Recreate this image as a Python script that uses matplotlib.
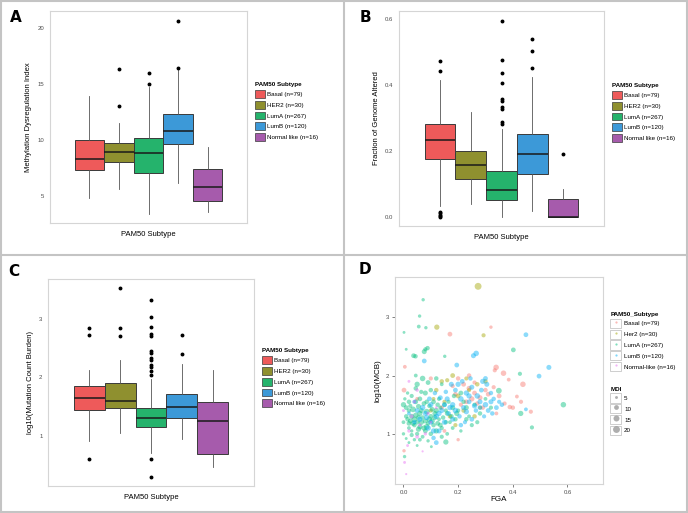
import numpy as np
import matplotlib.pyplot as plt
from matplotlib.patches import Patch, Rectangle
from matplotlib.lines import Line2D

plt.rcParams['font.family'] = ['Liberation Sans', 'DejaVu Sans']

subtypes = ['Basal', 'HER2', 'LumA', 'LumB', 'Normal like']
counts = [79, 30, 267, 120, 16]
box_colors = ['#EE5A5A', '#8F902F', '#25B36C', '#3C99D8', '#A65BAC']

# box stats per subtype: [whisker low, q1, median, q3, whisker high]
mdi_stats = [[4.85, 7.3, 8.3, 10.0, 13.9],
             [5.6, 8.0, 8.9, 9.7, 11.5],
             [3.4, 7.1, 8.8, 10.2, 14.7],
             [6.2, 9.6, 10.8, 12.3, 16.2],
             [3.55, 4.55, 5.8, 7.4, 9.4]]
mdi_fliers = [[], [16.3, 13.0], [16.0, 15.0], [20.6, 16.4], []]

fga_stats = [[0.033, 0.176, 0.234, 0.281, 0.415],
             [0.039, 0.115, 0.158, 0.198, 0.317],
             [0.0, 0.050, 0.081, 0.139, 0.265],
             [0.018, 0.129, 0.189, 0.252, 0.423],
             [0.0, 0.0, 0.0, 0.054, 0.083]]
fga_fliers = [[0.472, 0.443, 0.015, 0.010, 0.006, 0.002, 0.0],
              [],
              [0.594, 0.475, 0.435, 0.406, 0.356, 0.350, 0.334, 0.327, 0.287, 0.281],
              [0.538, 0.503, 0.451],
              [0.191]]

mcb_stats = [[0.91, 1.44, 1.65, 1.86, 2.13],
             [1.05, 1.47, 1.59, 1.91, 2.30],
             [0.71, 1.15, 1.30, 1.48, 1.97],
             [0.95, 1.30, 1.49, 1.72, 2.22],
             [0.48, 0.70, 1.26, 1.58, 2.12]]
mcb_fliers = [[2.84, 2.72, 0.61],
              [3.53, 2.84, 2.70],
              [3.31, 3.02, 2.85, 2.73, 2.71, 2.45, 2.42, 2.33, 2.29, 2.21, 2.17, 2.11, 2.04, 0.61, 0.31],
              [2.72, 2.39],
              []]

# panel D points: (FGA, log10(MCB), MDI)
basal_pts = [(0.32, 2.83, 6), (0.17, 2.71, 10), (0.339, 2.14, 13), (0.334, 2.09, 8), (0.366, 2.04, 13),
             (0.385, 1.93, 7), (0.437, 1.85, 13), (0.002, 1.75, 10), (0.415, 1.64, 7), (0.466, 1.38, 8),
             (0.389, 1.46, 9), (0.20, 0.90, 6), (0.002, 0.71, 6), (0.20, 1.95, 9), (0.22, 1.85, 10),
             (0.24, 1.78, 11), (0.26, 1.70, 10), (0.28, 1.62, 11), (0.30, 1.75, 9), (0.25, 1.60, 12),
             (0.23, 1.55, 10), (0.27, 1.52, 9), (0.21, 1.50, 8), (0.19, 1.68, 9), (0.31, 1.68, 10),
             (0.29, 1.45, 9), (0.33, 1.80, 8), (0.35, 1.65, 10), (0.18, 1.82, 8), (0.24, 2.00, 9),
             (0.26, 1.88, 8), (0.10, 1.95, 8), (0.05, 1.60, 7), (0.15, 1.05, 7), (0.37, 1.52, 8),
             (0.40, 1.45, 9), (0.34, 1.35, 7), (0.43, 1.55, 8), (0.14, 1.45, 9), (0.005, 2.15, 7)]
her2_pts = [(0.273, 3.53, 20), (0.122, 2.83, 12), (0.293, 2.69, 8), (0.14, 1.90, 9), (0.16, 1.92, 8),
            (0.18, 2.00, 10), (0.12, 1.75, 9), (0.20, 1.65, 10), (0.22, 1.40, 9), (0.24, 1.75, 8),
            (0.26, 1.30, 9), (0.10, 1.40, 8), (0.17, 1.30, 9), (0.28, 1.45, 7), (0.15, 1.55, 8),
            (0.30, 1.90, 9), (0.19, 1.15, 8), (0.11, 1.60, 7), (0.23, 1.95, 8), (0.27, 1.85, 9)]
luma_pts = [(0.072, 3.30, 6), (0.059, 3.02, 6), (0.056, 2.84, 7), (0.082, 2.82, 6), (0.002, 2.74, 5),
            (0.01, 2.45, 5), (0.402, 2.44, 10), (0.088, 2.47, 9), (0.080, 2.45, 8), (0.076, 2.41, 11),
            (0.037, 2.34, 10), (0.044, 2.33, 9), (0.151, 2.33, 6), (0.426, 2.03, 8), (0.349, 1.74, 14),
            (0.585, 1.50, 13), (0.429, 1.35, 12), (0.47, 1.11, 8), (0.155, 0.86, 12), (0.102, 0.78, 5),
            (0.004, 0.61, 6), (0.00, 1.50, 12), (0.01, 1.45, 10), (0.02, 1.40, 9), (0.03, 1.30, 11),
            (0.04, 1.25, 13), (0.05, 1.20, 10), (0.06, 1.35, 12), (0.07, 1.28, 9), (0.08, 1.22, 11),
            (0.09, 1.18, 8), (0.10, 1.30, 10), (0.11, 1.15, 9), (0.12, 1.40, 12), (0.13, 1.25, 7),
            (0.14, 1.10, 8), (0.02, 1.10, 7), (0.03, 1.05, 6), (0.05, 1.00, 8), (0.07, 0.95, 7),
            (0.00, 1.00, 6), (0.01, 0.92, 5), (0.04, 0.90, 6), (0.06, 1.60, 10), (0.08, 1.70, 11),
            (0.10, 1.75, 9), (0.05, 1.85, 12), (0.07, 1.95, 13), (0.09, 1.88, 10), (0.03, 1.65, 8),
            (0.02, 1.55, 9), (0.11, 1.55, 10), (0.13, 1.60, 8), (0.15, 1.50, 9), (0.16, 1.35, 10),
            (0.18, 1.45, 11), (0.20, 1.40, 8), (0.22, 1.55, 9), (0.24, 1.30, 7), (0.19, 1.25, 9),
            (0.17, 1.20, 7), (0.12, 1.05, 12), (0.08, 1.05, 10), (0.06, 1.12, 11), (0.04, 1.15, 9),
            (0.035, 1.42, 14), (0.055, 1.47, 11), (0.075, 1.52, 10), (0.095, 1.48, 9), (0.115, 1.35, 11),
            (0.135, 1.45, 8), (0.025, 1.22, 10), (0.045, 1.32, 12), (0.065, 1.20, 13), (0.085, 1.38, 14),
            (0.105, 1.22, 12), (0.125, 1.18, 10), (0.145, 1.28, 9), (0.165, 1.55, 8), (0.185, 1.65, 9),
            (0.21, 1.70, 10), (0.23, 1.45, 11), (0.26, 1.50, 8), (0.28, 1.35, 9), (0.30, 1.60, 7),
            (0.32, 1.45, 8), (0.01, 1.30, 9), (0.00, 1.20, 7), (0.015, 1.70, 6), (0.045, 1.78, 9),
            (0.16, 1.00, 7), (0.21, 1.05, 6), (0.05, 0.80, 5), (0.09, 0.88, 6), (0.25, 1.15, 8),
            (0.14, 1.85, 7), (0.12, 1.95, 9), (0.02, 0.85, 5), (0.015, 1.25, 9), (0.035, 1.18, 11),
            (0.055, 1.28, 10), (0.075, 1.10, 12), (0.095, 1.25, 13), (0.115, 1.28, 11), (0.135, 1.15, 10),
            (0.155, 1.20, 9), (0.175, 1.30, 10), (0.195, 1.35, 12), (0.065, 1.40, 11), (0.085, 1.55, 9),
            (0.045, 1.55, 10), (0.025, 1.48, 8), (0.105, 1.42, 10), (0.125, 1.50, 9), (0.005, 1.60, 6),
            (0.03, 0.98, 8), (0.06, 0.90, 7), (0.10, 1.00, 9), (0.14, 0.95, 8), (0.085, 1.12, 14),
            (0.055, 1.08, 12), (0.02, 1.18, 10), (0.155, 1.40, 8), (0.18, 1.10, 7), (0.23, 1.25, 9),
            (0.27, 1.20, 8), (0.045, 2.00, 7), (0.065, 1.72, 8)]
lumb_pts = [(0.448, 2.70, 10), (0.266, 2.38, 13), (0.256, 2.34, 11), (0.076, 2.25, 10), (0.195, 2.18, 10),
            (0.532, 2.14, 11), (0.496, 1.99, 10), (0.448, 1.42, 7), (0.10, 1.50, 12), (0.12, 1.30, 13),
            (0.14, 1.40, 11), (0.15, 1.20, 12), (0.16, 1.60, 11), (0.18, 1.50, 12), (0.19, 1.75, 10),
            (0.20, 1.85, 12), (0.21, 1.60, 13), (0.22, 1.45, 11), (0.23, 1.70, 12), (0.24, 1.55, 10),
            (0.25, 1.80, 11), (0.26, 1.48, 12), (0.27, 1.65, 13), (0.28, 1.55, 11), (0.29, 1.90, 12),
            (0.30, 1.50, 13), (0.31, 1.40, 10), (0.32, 1.55, 11), (0.33, 1.60, 9), (0.34, 1.45, 10),
            (0.35, 1.55, 8), (0.06, 1.25, 12), (0.08, 1.35, 11), (0.09, 1.10, 13), (0.11, 1.05, 12),
            (0.13, 1.05, 11), (0.05, 1.40, 10), (0.04, 1.20, 9), (0.07, 1.45, 13), (0.165, 1.35, 10),
            (0.205, 1.30, 9), (0.225, 1.20, 8), (0.175, 1.85, 11), (0.215, 1.90, 10), (0.245, 1.95, 9),
            (0.285, 1.75, 10), (0.305, 1.85, 11), (0.155, 1.72, 9), (0.135, 1.62, 10), (0.115, 1.70, 9),
            (0.095, 1.60, 10), (0.265, 1.40, 9), (0.295, 1.30, 8), (0.325, 1.35, 9), (0.04, 1.55, 8),
            (0.02, 1.35, 7), (0.12, 0.85, 10), (0.11, 0.93, 9), (0.17, 1.45, 12), (0.19, 1.40, 13),
            (0.23, 1.38, 12), (0.25, 1.25, 10), (0.21, 1.15, 9), (0.18, 1.25, 11), (0.28, 1.45, 10),
            (0.32, 1.70, 9), (0.36, 1.50, 9), (0.24, 1.65, 12), (0.15, 1.50, 11), (0.13, 1.35, 12),
            (0.10, 1.20, 11), (0.085, 1.28, 12), (0.30, 1.95, 10)]
normal_pts = [(0.004, 0.51, 5), (0.01, 0.31, 4), (0.02, 1.05, 6), (0.05, 0.95, 7), (0.08, 1.00, 6),
              (0.03, 1.30, 8), (0.06, 1.15, 6), (0.00, 1.40, 5), (0.10, 1.20, 5), (0.04, 1.55, 6),
              (0.015, 0.80, 5), (0.07, 0.70, 4), (0.09, 1.35, 6), (0.12, 1.45, 5), (0.05, 1.75, 6),
              (0.02, 1.90, 5)]
scatter_labels = ['Basal (n=79)', 'Her2 (n=30)', 'LumA (n=267)', 'LumB (n=120)', 'Normal-like (n=16)']
scatter_colors = ['#F8766D', '#A3A500', '#00BF7D', '#00B0F6', '#E76BF3']
mdi_legend = [5, 10, 15, 20]

GREY = '#4D4D4D'
EDGE = '#D5D5D5'


def mdi_size(v):
    v = np.asarray(v, dtype=float)
    d_px = 7 * (1 + 5 * np.sqrt(np.clip((v - 3.5) / 17.1, 0, 1))) / 6
    return (d_px * 0.72) ** 2


def style_axes(ax):
    for sp in ax.spines.values():
        sp.set_color(EDGE)
        sp.set_linewidth(0.8)
    ax.tick_params(labelsize=4.3, colors=GREY, length=0, pad=4)


def box_panel(ax, stats, fliers, ylabel, ylim, yticks, yticklabels):
    bstats = []
    for st, fl, lab in zip(stats, fliers, subtypes):
        bstats.append(dict(whislo=st[0], q1=st[1], med=st[2], q3=st[3], whishi=st[4],
                           fliers=fl, label=lab))
    pos = 1 + 0.18 * (np.arange(5) - 2)
    bp = ax.bxp(bstats, positions=pos, widths=0.18, patch_artist=True, showcaps=False,
                boxprops=dict(edgecolor='#3a3a3a', linewidth=0.7),
                medianprops=dict(color='#1a1a1a', linewidth=1.1),
                whiskerprops=dict(color='#555555', linewidth=0.6),
                flierprops=dict(marker='o', markerfacecolor='black', markeredgecolor='black',
                                markersize=1.8, linestyle='none'))
    for patch, c in zip(bp['boxes'], box_colors):
        patch.set_facecolor(c)
    ax.set_xlim(0.4, 1.6)
    ax.set_xticks([])
    ax.set_ylim(*ylim)
    ax.set_yticks(yticks)
    ax.set_yticklabels(yticklabels)
    style_axes(ax)
    ax.set_xlabel('PAM50 Subtype', fontsize=5.5, labelpad=6)
    ax.set_ylabel(ylabel, fontsize=5.5, labelpad=4)
    handles = [Patch(facecolor=c, edgecolor='#3a3a3a', linewidth=0.5) for c in box_colors]
    labels = ['%s (n=%d)' % (s, n) for s, n in zip(subtypes, counts)]
    ax.legend(handles, labels, title='PAM50 Subtype', loc='upper left',
              bbox_to_anchor=(1.04, 0.665), frameon=False, fontsize=4.5,
              title_fontproperties={'weight': 'bold', 'size': 4.5}, alignment='left',
              handlelength=1.55, handleheight=1.5, labelspacing=0.5, handletextpad=0.4,
              borderpad=0, borderaxespad=0)


fig = plt.figure(figsize=(6.88, 5.13), dpi=100)
W, H = 688.0, 513.0


def add_axes_px(x0, y0, x1, y1):
    return fig.add_axes([x0 / W, 1 - y1 / H, (x1 - x0) / W, (y1 - y0) / H])


axA = add_axes_px(50, 11, 247, 223)
axB = add_axes_px(399, 11, 604, 226)
axC = add_axes_px(48, 279, 254, 486)
axD = add_axes_px(395, 277, 603, 484)

box_panel(axA, mdi_stats, mdi_fliers, 'Methylation Dysregulation Index', (2.6, 21.5),
          [5, 10, 15, 20], ['5', '10', '15', '20'])
box_panel(axB, fga_stats, fga_fliers, 'Fraction of Genome Altered', (-0.028, 0.624),
          [0, 0.2, 0.4, 0.6], ['0.0', '0.2', '0.4', '0.6'])
box_panel(axC, mcb_stats, mcb_fliers, 'log10(Mutation Count Burden)', (0.15, 3.675),
          [1, 2, 3], ['1', '2', '3'])

# panel D
for pts, c in zip([basal_pts, her2_pts, luma_pts, lumb_pts, normal_pts], scatter_colors):
    arr = np.array(pts)
    axD.scatter(arr[:, 0], arr[:, 1], s=mdi_size(arr[:, 2]), c=c, alpha=0.45,
                edgecolors='none')
axD.set_xlim(-0.031, 0.73)
axD.set_ylim(0.14, 3.69)
axD.set_xticks([0, 0.2, 0.4, 0.6])
axD.set_xticklabels(['0.0', '0.2', '0.4', '0.6'])
axD.set_yticks([1, 2, 3])
style_axes(axD)
axD.tick_params(length=2, width=0.5, color=GREY, pad=2)
axD.set_xlabel('FGA', fontsize=5.8, labelpad=1)
axD.set_ylabel('log10(MCB)', fontsize=5.8, labelpad=3)

key_box = lambda: Rectangle((0, 0), 1, 1, facecolor='white', edgecolor='#BBBBBB', linewidth=0.5)
h1 = [(key_box(), Line2D([], [], marker='o', linestyle='none', markersize=1.6,
                         markerfacecolor=c, markeredgecolor='none', alpha=0.5))
      for c in scatter_colors]
leg1 = axD.legend(h1, scatter_labels, title='PAM50_Subtype', loc='upper left',
                  bbox_to_anchor=(1.035, 0.83), frameon=False, fontsize=4.5,
                  title_fontproperties={'weight': 'bold', 'size': 4.5}, alignment='left',
                  handlelength=1.7, handleheight=1.9, labelspacing=0.25, handletextpad=0.5,
                  borderpad=0, borderaxespad=0)
axD.add_artist(leg1)
h2 = [(key_box(), Line2D([], [], marker='o', linestyle='none',
                         markersize=float(np.sqrt(mdi_size(v))),
                         markerfacecolor='#9A9A9A', markeredgecolor='none', alpha=0.8))
      for v in mdi_legend]
axD.legend(h2, [str(v) for v in mdi_legend], title='MDI', loc='upper left',
           bbox_to_anchor=(1.035, 0.47), frameon=False, fontsize=4.5,
           title_fontproperties={'weight': 'bold', 'size': 4.5}, alignment='left',
           handlelength=1.7, handleheight=1.9, labelspacing=0.25, handletextpad=0.5,
           borderpad=0, borderaxespad=0)

# panel letters
for letter, (px, py) in zip('ABCD', [(16, 17), (365, 17), (14, 272), (365, 270)]):
    fig.text(px / W, 1 - py / H, letter, fontsize=11, fontweight='bold',
             ha='center', va='center', family='DejaVu Sans')

# panel frames
fig.add_artist(Rectangle((0.001, 0.001), 0.998, 0.998, transform=fig.transFigure,
                         fill=False, edgecolor='#C4C4C4', linewidth=1.5))
fig.add_artist(Line2D([344 / W, 344 / W], [0, 1], transform=fig.transFigure,
                      color='#C4C4C4', linewidth=1.5))
fig.add_artist(Line2D([0, 1], [1 - 255 / H, 1 - 255 / H], transform=fig.transFigure,
                      color='#C4C4C4', linewidth=1.5))

fig.savefig('out.png', dpi=100)
